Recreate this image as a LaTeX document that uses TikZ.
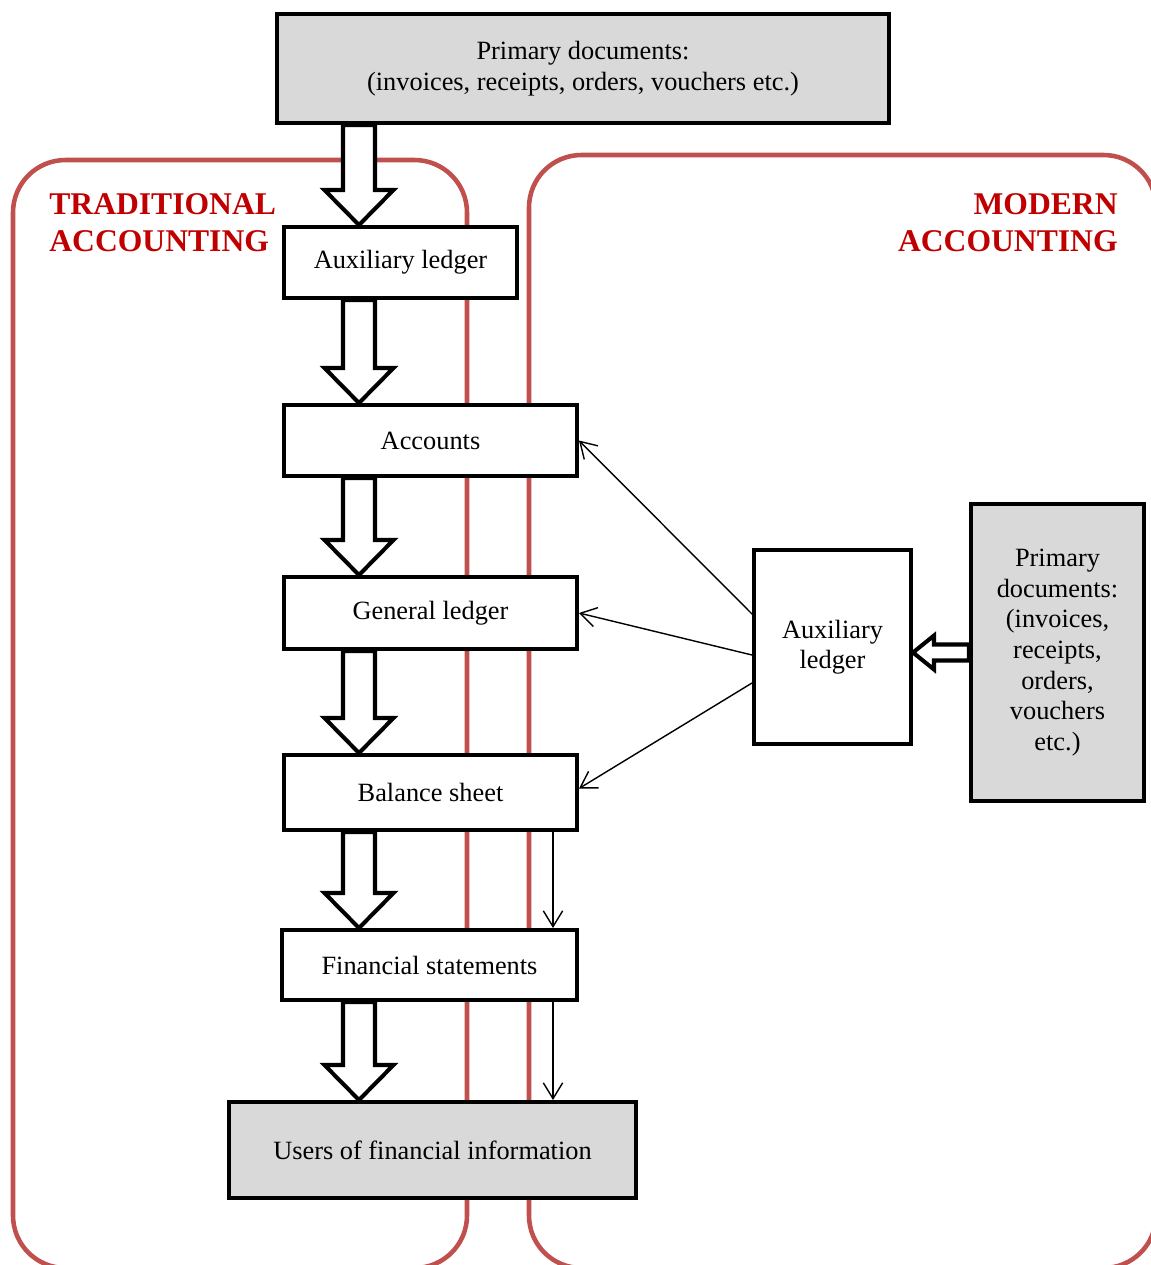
\documentclass[tikz,border=0pt]{standalone}
\usepackage{fontspec}
\setmainfont{Liberation Serif}
\usetikzlibrary{calc,arrows.meta}
\definecolor{zonered}{HTML}{C0504D}
\definecolor{titlered}{HTML}{C00000}
\definecolor{boxgray}{HTML}{D9D9D9}
% hollow block arrow: from, to, shaft half width, head half width, head length
\newcommand{\fatarrow}[5]{%
  \coordinate (fa-b) at ($(#2)!#5!(#1)$);
  \draw[fat] ($(#1)!#3!90:(#2)$) -- ($(fa-b)!#3!-90:(#1)$) -- ($(fa-b)!#4!-90:(#1)$) -- (#2)
    -- ($(fa-b)!#4!90:(#1)$) -- ($(fa-b)!#3!90:(#1)$) -- ($(#1)!#3!-90:(#2)$) -- cycle;}

\begin{document}
\begin{tikzpicture}[x=0.02cm,y=-0.02cm,
    box/.style={draw,line width=2.3pt,fill=white,align=center,inner sep=2pt,font=\fontsize{15}{17.4}\selectfont},
    zone/.style={draw=zonered,line width=2.6pt,rounded corners=1.05cm},
    heading/.style={text=titlered,font=\bfseries\fontsize{18}{21}\selectfont,inner sep=0pt},
    fat/.style={draw,line width=2.3pt,fill=white,line join=miter},
    feed/.style={line width=0.8pt,-{Straight Barb[length=9pt,width=11pt]}}]
        \useasboundingbox (0,0) rectangle (1151,1265);
        \clip (0,0) rectangle (1151,1265);
        % the two areas
        \draw[zone] (13,160) rectangle (467,1268);
        \draw[zone] (529,155) rectangle (1156,1268);
        \node[heading,anchor=north west,align=left] (trad) at (49,193) {TRADITIONAL\\ACCOUNTING};
        \node[heading,anchor=north east,align=right] (mod) at (1118,193) {MODERN\\ACCOUNTING};
        % boxes
        \node[box,fill=boxgray,minimum width=12.24cm,minimum height=2.18cm] (docs) at (583,68.5) {Primary documents:\\(invoices, receipts, orders, vouchers etc.)};
        \node[box,minimum width=4.66cm,minimum height=1.42cm] (auxl) at (400.5,262.5) {Auxiliary ledger};
        \node[box,minimum width=5.86cm,minimum height=1.42cm] (acc) at (430.5,440.5) {Accounts};
        \node[box,minimum width=5.86cm,minimum height=1.44cm] (gen) at (430.5,613) {General ledger};
        \node[box,minimum width=5.86cm,minimum height=1.5cm] (bal) at (430.5,792.5) {Balance sheet};
        \node[box,minimum width=5.9cm,minimum height=1.4cm] (fin) at (429.5,965) {Financial statements};
        \node[box,fill=boxgray,minimum width=8.14cm,minimum height=1.92cm] (users) at (432.5,1150) {Users of financial information};
        \node[box,minimum width=3.14cm,minimum height=3.88cm] (auxr) at (832.5,647) {Auxiliary\\ledger};
        \node[box,fill=boxgray,minimum width=3.46cm,minimum height=5.94cm] (docsr) at (1057.5,652.5) {Primary\\documents:\\(invoices,\\receipts,\\orders,\\vouchers\\etc.)};
        % block arrows
        \coordinate (acol) at (359,0);
        \fatarrow{docs.south -| acol}{auxl.north -| acol}{0.32cm}{0.69cm}{0.7cm}
        \fatarrow{auxl.south -| acol}{acc.north -| acol}{0.32cm}{0.69cm}{0.7cm}
        \fatarrow{acc.south -| acol}{gen.north -| acol}{0.32cm}{0.69cm}{0.7cm}
        \fatarrow{gen.south -| acol}{bal.north -| acol}{0.32cm}{0.69cm}{0.7cm}
        \fatarrow{bal.south -| acol}{fin.north -| acol}{0.32cm}{0.69cm}{0.7cm}
        \fatarrow{fin.south -| acol}{users.north -| acol}{0.32cm}{0.69cm}{0.7cm}
        \fatarrow{docsr.west}{docsr.west -| auxr.east}{0.16cm}{0.34cm}{0.42cm}
        % thin arrows
        \draw[feed] ($(auxr.west)+(0,-33)$) -- (acc.east);
        \draw[feed] ($(auxr.west)+(0,8)$) -- (gen.east);
        \draw[feed] ($(auxr.west)+(0,36)$) -- ($(bal.east)+(0,-4)$);
        \coordinate (vcol) at (553,0);
        \draw[feed] (bal.south -| vcol) -- (fin.north -| vcol);
        \draw[feed] (fin.south -| vcol) -- (users.north -| vcol);
\end{tikzpicture}
\end{document}
